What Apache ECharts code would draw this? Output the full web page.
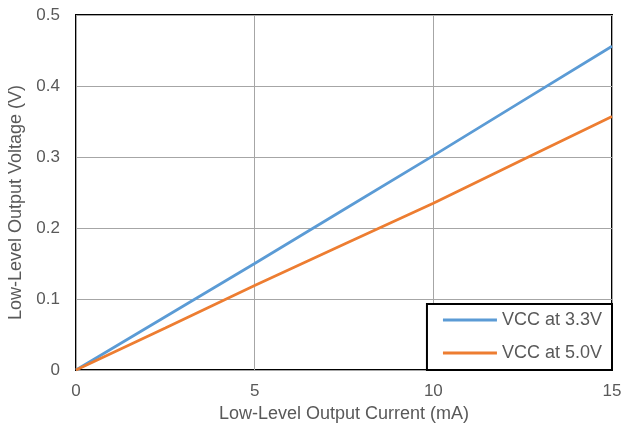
<!DOCTYPE html>
<html><head><meta charset="utf-8">
<script src="https://cdn.jsdelivr.net/npm/echarts@6/dist/echarts.min.js"></script>
<style>html,body{margin:0;padding:0;background:#fff}#c{width:632px;height:425px}</style>
</head><body><div id="c"></div>
<script>
const current = [0, 2.5, 5, 7.5, 10, 12.5, 15];
const vcc33 = [0, 0.075, 0.150, 0.226, 0.302, 0.379, 0.456];
const vcc50 = [0, 0.059, 0.119, 0.177, 0.235, 0.296, 0.357];
const seriesNames = ['VCC at 3.3V', 'VCC at 5.0V'];
const xTicks = [0, 5, 10, 15];
const yTicks = [0, 0.1, 0.2, 0.3, 0.4, 0.5];

const chart = echarts.init(document.getElementById('c'));
const font = 'Liberation Sans, Arial, sans-serif';
chart.setOption({
  animation: false,
  grid: {left: 76, right: 20, top: 15, bottom: 55, show: true, borderColor: '#000', borderWidth: 2, backgroundColor: 'transparent', containLabel: false, outerBoundsMode: 'none'},
  xAxis: {
    type: 'value', min: xTicks[0], max: xTicks[xTicks.length-1], interval: 5,
    name: 'Low-Level Output Current (mA)', nameLocation: 'middle', nameGap: 32,
    nameTextStyle: {color: '#595959', fontSize: 18, fontFamily: font},
    axisLine: {show: false}, axisTick: {show: false},
    axisLabel: {color: '#595959', fontSize: 17, fontFamily: font, margin: 13},
    splitLine: {lineStyle: {color: '#a6a6a6', width: 1}}
  },
  yAxis: {
    type: 'value', min: yTicks[0], max: yTicks[yTicks.length-1], interval: 0.1,
    name: 'Low-Level Output Voltage (V)', nameLocation: 'middle', nameGap: 45,
    nameTextStyle: {color: '#595959', fontSize: 18, fontFamily: font, padding: [0, 20, 0, 0]},
    axisLine: {show: false}, axisTick: {show: false},
    axisLabel: {color: '#595959', fontSize: 17, fontFamily: font, margin: 16},
    splitLine: {lineStyle: {color: '#a6a6a6', width: 1}}
  },
  legend: {
    orient: 'vertical', right: 20, bottom: 55,
    backgroundColor: '#fff', borderColor: '#000', borderWidth: 2, borderRadius: 0,
    padding: [7, 10, 8, 16], itemGap: 15, itemWidth: 54, itemHeight: 3, icon: 'rect',
    textStyle: {color: '#595959', fontSize: 18, lineHeight: 18, fontFamily: font},
    data: seriesNames
  },
  series: [
    {name: seriesNames[0], type: 'line', data: current.map((x, i) => [x, vcc33[i]]), showSymbol: false, lineStyle: {color: '#5B9BD5', width: 2.75}, itemStyle: {color: '#5B9BD5'}},
    {name: seriesNames[1], type: 'line', data: current.map((x, i) => [x, vcc50[i]]), showSymbol: false, lineStyle: {color: '#ED7D31', width: 2.75}, itemStyle: {color: '#ED7D31'}}
  ]
});
</script></body></html>
